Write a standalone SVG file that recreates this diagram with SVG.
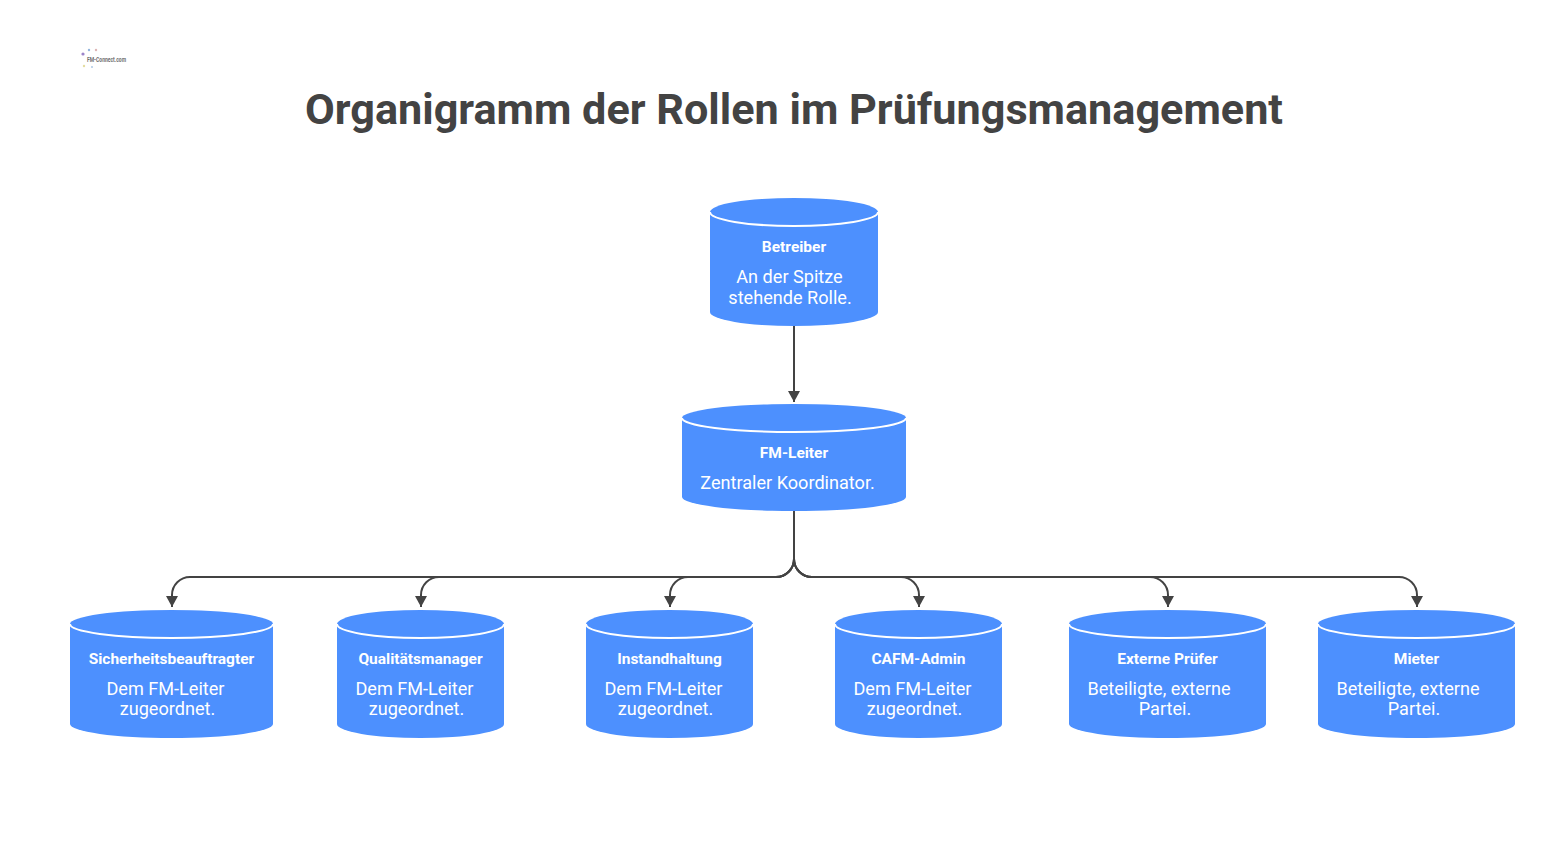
<svg xmlns="http://www.w3.org/2000/svg" width="1558" height="842" viewBox="0 0 1558 842">
<style>
text{font-family:Roboto,"Liberation Sans",sans-serif}
.cyl{fill:#4d90fe}
.rim{fill:none;stroke:#fff;stroke-width:2}
.h{font-size:15.500px;font-weight:700;fill:#fff;text-anchor:middle}
.d{font-size:18.100px;font-weight:400;fill:#fff;text-anchor:middle}
.c{fill:none;stroke:#434343;stroke-width:2}
</style>
<defs>
<marker id="b" markerUnits="userSpaceOnUse" markerWidth="12" markerHeight="12" refX="11" refY="6" orient="auto" viewBox="0 0 12 12"><path d="M0 0L11 6L0 12Z" fill="#434343"/></marker>
</defs>
<rect width="1558" height="842" fill="#fff"/>
<g id="logo" opacity="0.85">
<circle cx="83" cy="54" r="1.600" fill="#8a6fc0"/><circle cx="89" cy="50" r="1.200" fill="#7fa8d8"/><circle cx="96" cy="50" r="1.200" fill="#d8a8a8"/><circle cx="84" cy="66" r="1.200" fill="#e0d890"/><circle cx="92" cy="67" r="1" fill="#a0c0e0"/>
<text x="87" y="62" font-size="8" font-weight="700" fill="#555" textLength="39" lengthAdjust="spacingAndGlyphs">FM-Connect.com</text>
</g>
<text id="title" x="794" y="124" font-size="43.200" font-weight="700" fill="#434343" text-anchor="middle">Organigramm der Rollen im Prüfungsmanagement</text>
<g id="connectors">
<path class="c" marker-end="url(#b)" d="M794 326V402"/>
<path class="c" marker-end="url(#b)" d="M794 511V559A18 18 0 0 1 776 577H190A18 18 0 0 0 172 595V607"/>
<path class="c" marker-end="url(#b)" d="M794 511V559A18 18 0 0 1 776 577H439A18 18 0 0 0 421 595V607"/>
<path class="c" marker-end="url(#b)" d="M794 511V559A18 18 0 0 1 776 577H688A18 18 0 0 0 670 595V607"/>
<path class="c" marker-end="url(#b)" d="M794 511V559A18 18 0 0 0 812 577H901A18 18 0 0 1 919 595V607"/>
<path class="c" marker-end="url(#b)" d="M794 511V559A18 18 0 0 0 812 577H1150A18 18 0 0 1 1168 595V607"/>
<path class="c" marker-end="url(#b)" d="M794 511V559A18 18 0 0 0 812 577H1399A18 18 0 0 1 1417 595V607"/>
</g>
<g id="node-betreiber">
<path class="cyl" d="M710 212A84 14 0 0 1 878 212V312A84 14 0 0 1 710 312Z"/>
<path class="rim" d="M710 212A84 14 0 0 0 878 212"/>
<text class="h" x="794" y="252">Betreiber</text>
<text class="d" x="789.500" y="283">An der Spitze</text>
<text class="d" x="790" y="303.500">stehende Rolle.</text>
</g>
<g id="node-fm-leiter">
<path class="cyl" d="M682 418A112 14 0 0 1 906 418V497A112 14 0 0 1 682 497Z"/>
<path class="rim" d="M682 418A112 14 0 0 0 906 418"/>
<text class="h" x="794" y="458">FM-Leiter</text>
<text class="d" x="787.500" y="488.500">Zentraler Koordinator.</text>
</g>
<g id="node-sicherheit">
<path class="cyl" d="M70 624A101.500 14 0 0 1 273 624V724A101.500 14 0 0 1 70 724Z"/>
<path class="rim" d="M70 624A101.500 14 0 0 0 273 624"/>
<text class="h" x="171.500" y="664">Sicherheitsbeauftragter</text>
<text class="d" x="165.500" y="694.500">Dem FM-Leiter</text>
<text class="d" x="167.500" y="715">zugeordnet.</text>
</g>
<g id="node-qualitaet">
<path class="cyl" d="M337 624A83.500 14 0 0 1 504 624V724A83.500 14 0 0 1 337 724Z"/>
<path class="rim" d="M337 624A83.500 14 0 0 0 504 624"/>
<text class="h" x="420.500" y="664">Qualitätsmanager</text>
<text class="d" x="414.500" y="694.500">Dem FM-Leiter</text>
<text class="d" x="416.500" y="715">zugeordnet.</text>
</g>
<g id="node-instandhaltung">
<path class="cyl" d="M586 624A83.500 14 0 0 1 753 624V724A83.500 14 0 0 1 586 724Z"/>
<path class="rim" d="M586 624A83.500 14 0 0 0 753 624"/>
<text class="h" x="669.500" y="664">Instandhaltung</text>
<text class="d" x="663.500" y="694.500">Dem FM-Leiter</text>
<text class="d" x="665.500" y="715">zugeordnet.</text>
</g>
<g id="node-cafm">
<path class="cyl" d="M835 624A83.500 14 0 0 1 1002 624V724A83.500 14 0 0 1 835 724Z"/>
<path class="rim" d="M835 624A83.500 14 0 0 0 1002 624"/>
<text class="h" x="918.500" y="664">CAFM-Admin</text>
<text class="d" x="912.500" y="694.500">Dem FM-Leiter</text>
<text class="d" x="914.500" y="715">zugeordnet.</text>
</g>
<g id="node-pruefer">
<path class="cyl" d="M1069 624A98.500 14 0 0 1 1266 624V724A98.500 14 0 0 1 1069 724Z"/>
<path class="rim" d="M1069 624A98.500 14 0 0 0 1266 624"/>
<text class="h" x="1167.500" y="664">Externe Prüfer</text>
<text class="d" x="1159" y="694.500">Beteiligte, externe</text>
<text class="d" x="1165" y="715">Partei.</text>
</g>
<g id="node-mieter">
<path class="cyl" d="M1318 624A98.500 14 0 0 1 1515 624V724A98.500 14 0 0 1 1318 724Z"/>
<path class="rim" d="M1318 624A98.500 14 0 0 0 1515 624"/>
<text class="h" x="1416.500" y="664">Mieter</text>
<text class="d" x="1408" y="694.500">Beteiligte, externe</text>
<text class="d" x="1414" y="715">Partei.</text>
</g>
</svg>
